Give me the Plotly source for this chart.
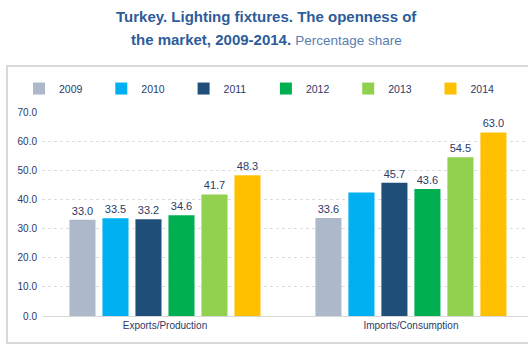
import plotly.graph_objects as go

categories = ["Exports/Production", "Imports/Consumption"]
years = ["2009", "2010", "2011", "2012", "2013", "2014"]
values = {
    "2009": [33.0, 33.6],
    "2010": [33.5, 42.4],
    "2011": [33.2, 45.7],
    "2012": [34.6, 43.6],
    "2013": [41.7, 54.5],
    "2014": [48.3, 63.0],
}
labels = {
    "2009": ["33.0", "33.6"],
    "2010": ["33.5", ""],
    "2011": ["33.2", "45.7"],
    "2012": ["34.6", "43.6"],
    "2013": ["41.7", "54.5"],
    "2014": ["48.3", "63.0"],
}
colors = ["#ADB9CA", "#00B0F0", "#1F4E79", "#00B050", "#92D050", "#FFC000"]
yticks = [0, 10, 20, 30, 40, 50, 60, 70]
title_line1 = "<b>Turkey. Lighting fixtures. The openness of</b>"
title_line2 = ("<b>the market, 2009-2014.</b> "
               "<span style='font-size:13.5px;color:#5A7DB0'>Percentage share</span>")

navy = "#2B3A67"
fig = go.Figure()
for y, c in zip(years, colors):
    fig.add_trace(go.Bar(
        name=y, x=categories, y=values[y], marker_color=c, marker_line_width=0,
        text=labels[y], textposition="outside", cliponaxis=False,
        textfont=dict(size=11, color=navy, family="Liberation Sans"),
    ))

fig.update_layout(
    width=528, height=353,
    margin=dict(l=42, r=0, t=112, b=37, autoexpand=False),
    paper_bgcolor="white", plot_bgcolor="white",
    barmode="group", bargap=0.195, bargroupgap=0.21,
    font=dict(family="Liberation Sans", color=navy),
    legend=dict(orientation="h", x=-23/486, xanchor="left",
                y=1.115, yanchor="middle",
                entrywidth=37.3, entrywidthmode="pixels", itemwidth=30,
                font=dict(size=10.5, color=navy)),
    showlegend=True,
)
fig.update_xaxes(type="category", range=[-0.5, 1.476], showline=True, linecolor="#D9D9D9",
                 linewidth=1, ticks="", tickfont=dict(size=10, color=navy), showgrid=False)
fig.update_yaxes(range=[0, 70], tickvals=yticks, ticktext=[f"{v:.1f}" for v in yticks],
                 showgrid=True, gridcolor="#DDDDDD", griddash="dot", gridwidth=1,
                 zeroline=False, tickfont=dict(size=10, color=navy), ticks="", ticklabelstandoff=4)

for txt, ypix in [(title_line1, 17), (title_line2, 40)]:
    fig.add_annotation(text=txt, xref="paper", yref="paper", showarrow=False,
                       x=(266 - 42) / 486, xanchor="center",
                       y=1 + (112 - ypix) / 204, yanchor="middle",
                       font=dict(size=15, color="#2E5C9A", family="Liberation Sans"))

fig.add_shape(type="rect", xref="paper", yref="paper",
              x0=-35/486, x1=1.02, y0=-27/204, y1=1 + 46/204,
              line=dict(color="#D9D9D9", width=2), fillcolor="rgba(0,0,0,0)", layer="below")

fig.write_html("out.html")
